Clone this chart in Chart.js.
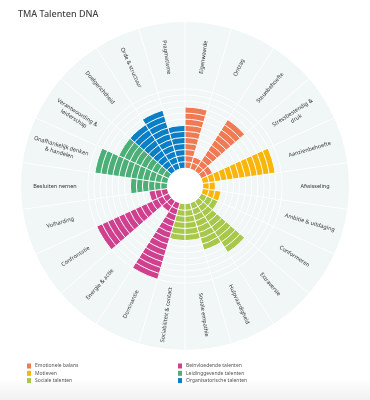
<!DOCTYPE html>
<html>
<head>
<meta charset="utf-8">
<script src="https://cdn.jsdelivr.net/npm/chart.js@4"></script>
<style>
html,body{margin:0;padding:0;}
body{width:370px;height:400px;background:linear-gradient(to bottom,#ffffff 0,#ffffff 378px,#f1f1f1 400px);}
canvas{display:block;}
</style>
</head>
<body>
<canvas id="c" width="370" height="400"></canvas>
<script>
const chartTitle = 'TMA Talenten DNA';
const categories = [
  ['Eigenwaarde'], ['Ontzag'], ['Steunbehoefte'], ['Stressbestendig &', 'druk'],
  ['Aanzienbehoefte'], ['Afwisseling'], ['Ambitie & uitdaging'],
  ['Conformeren'], ['Extraversie'], ['Hulpvaardigheid'], ['Sociale empathie'], ['Sociabiliteit & contact'],
  ['Dominantie'], ['Energie & actie'], ['Confrontatie'], ['Volharding'],
  ['Besluiten nemen'], ['Onafhankelijk denken', '& handelen'], ['Verantwoording &', 'leiderschap'],
  ['Doelgerichtheid'], ['Orde & structuur'], ['Pragmatisme']
];
const values = [10, 2, 10, 2, 12, 2, 3, 3, 10, 8, 6, 6, 13, 2, 13, 3, 6, 12, 9, 9, 10, 7];
const categoryGroup = [0, 0, 0, 0, 1, 1, 1, 2, 2, 2, 2, 2, 3, 3, 3, 3, 4, 4, 4, 5, 5, 5];
const groupNames = ['Emotionele balans', 'Motieven', 'Sociale talenten',
  'Beïnvloedende talenten', 'Leidinggevende talenten', 'Organisatorische talenten'];
const groupColors = ['#f07a53', '#fab50a', '#a7c84a', '#cf408e', '#4caf78', '#0a7fc6'];
const scaleMin = -3, scaleMax = 24, ringMax = 13;

const decor = {
  id: 'decor',
  beforeDatasetsDraw(chart) {
    const s = chart.scales.r, ctx = chart.ctx;
    ctx.save();
    ctx.beginPath();
    ctx.arc(s.xCenter, s.yCenter, s.drawingArea, 0, Math.PI * 2);
    ctx.fillStyle = '#f1f6f6';
    ctx.fill();
    ctx.restore();
  },
  afterDatasetsDraw(chart) {
    const s = chart.scales.r, ctx = chart.ctx;
    ctx.save();
    ctx.beginPath();
    ctx.arc(s.xCenter, s.yCenter, s.getDistanceFromCenterForValue(0), 0, Math.PI * 2);
    ctx.fillStyle = '#ffffff';
    ctx.fill();
    ctx.restore();
  },
  afterDraw(chart) {
    const s = chart.scales.r, ctx = chart.ctx;
    const n = categories.length;
    const half = Math.PI / n;
    const dist = s.drawingArea * 0.793;
    ctx.save();
    ctx.fillStyle = '#333';
    ctx.font = '5.5px "Noto Sans", "Open Sans", sans-serif';
    ctx.textAlign = 'center';
    ctx.textBaseline = 'middle';
    categories.forEach((lines, i) => {
      const p = s.getPointPosition(i, dist, half);
      let rot = p.angle;
      if (Math.cos(rot) < -1e-6) rot += Math.PI;
      ctx.save();
      ctx.translate(p.x, p.y);
      ctx.rotate(rot);
      const lh = 7;
      lines.forEach((t, k) => {
        ctx.fillText(t, 0, (k - (lines.length - 1) / 2) * lh);
      });
      ctx.restore();
    });
    // title
    ctx.textAlign = 'left';
    ctx.fillStyle = '#444';
    ctx.font = '500 9px "Noto Sans", "Open Sans", sans-serif';
    ctx.fillText(chartTitle, 18, 14);
    // legend
    ctx.font = '5px "Noto Sans", "Open Sans", sans-serif';
    groupNames.forEach((name, g) => {
      const col = Math.floor(g / 3), row = g % 3;
      const x = col === 0 ? 27 : 178;
      const y = 366 + row * 7.3;
      ctx.fillStyle = groupColors[g];
      ctx.fillRect(x, y - 2.5, 4, 5);
      ctx.fillStyle = '#555';
      ctx.fillText(name, x + 8, y);
    });
    ctx.restore();
  }
};

new Chart(document.getElementById('c'), {
  type: 'polarArea',
  data: {
    labels: categories.map(l => l.join(' ')),
    datasets: [{
      data: values,
      backgroundColor: categoryGroup.map(g => groupColors[g]),
      borderWidth: 0
    }]
  },
  options: {
    responsive: false,
    animation: false,
    layout: { padding: { left: 21, right: 21, top: 22, bottom: 50 } },
    plugins: { legend: { display: false }, tooltip: { enabled: false }, title: { display: false } },
    scales: {
      r: {
        min: scaleMin,
        max: scaleMax,
        startAngle: 0,
        ticks: { display: false, stepSize: 1 },
        pointLabels: { display: false },
        grid: {
          z: 1,
          circular: true,
          lineWidth: 1,
          color: ctx => (ctx.tick && ctx.tick.value >= 1 && ctx.tick.value <= ringMax) ? '#ffffff' : 'rgba(0,0,0,0)'
        },
        angleLines: { display: true, color: '#ffffff', lineWidth: 1 }
      }
    }
  },
  plugins: [decor]
});
</script>
</body>
</html>
